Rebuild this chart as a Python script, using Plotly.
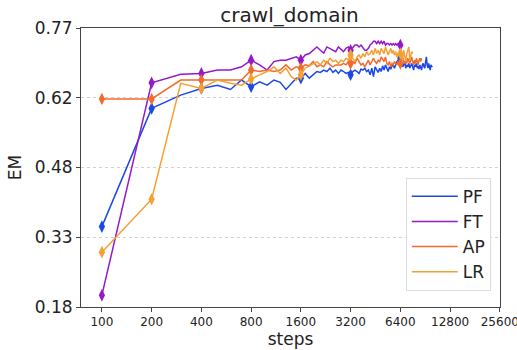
import math
import plotly.graph_objects as go

# Evaluation every 100 steps; EM score per method
STEP_INTERVAL = 100
MARK_STEPS = [100, 200, 400, 800, 1600, 3200, 6400]

pf_em = [
    0.350, 0.600, 0.628, 0.642, 0.649, 0.640, 0.660, 0.646, 0.656, 0.649,
    0.660, 0.655, 0.640, 0.653, 0.664, 0.664, 0.674, 0.664, 0.671, 0.678,
    0.676, 0.681, 0.678, 0.685, 0.676, 0.681, 0.674, 0.681, 0.678, 0.674,
    0.676, 0.671, 0.678, 0.681, 0.678, 0.674, 0.683, 0.681, 0.685, 0.678,
    0.681, 0.671, 0.685, 0.667, 0.688, 0.681, 0.676, 0.685, 0.678, 0.690,
    0.681, 0.692, 0.685, 0.678, 0.688, 0.683, 0.690, 0.692, 0.685, 0.695,
    0.699, 0.702, 0.699, 0.706, 0.695, 0.688, 0.692, 0.699, 0.685, 0.692,
    0.688, 0.695, 0.685, 0.692, 0.695, 0.688, 0.681, 0.692, 0.688, 0.695,
    0.685, 0.690, 0.683, 0.692, 0.688, 0.681, 0.692, 0.695, 0.688, 0.685,
    0.699, 0.709, 0.692, 0.685, 0.695, 0.688, 0.681, 0.692, 0.688, 0.690,
]

ft_em = [
    0.205, 0.654, 0.672, 0.674, 0.681, 0.681, 0.688, 0.702, 0.692, 0.681,
    0.699, 0.702, 0.702, 0.706, 0.709, 0.702, 0.713, 0.716, 0.723, 0.730,
    0.723, 0.717, 0.730, 0.727, 0.723, 0.720, 0.730, 0.725, 0.720, 0.727,
    0.730, 0.723, 0.730, 0.734, 0.734, 0.730, 0.734, 0.727, 0.723, 0.723,
    0.727, 0.734, 0.737, 0.742, 0.742, 0.737, 0.742, 0.737, 0.742, 0.737,
    0.742, 0.734, 0.737, 0.737, 0.734, 0.737, 0.734, 0.737, 0.734, 0.737,
    0.734, 0.737, 0.734, 0.734, 0.734,
]

ap_em = [
    0.620, 0.620, 0.660, 0.660, 0.660, 0.660, 0.660, 0.681, 0.678, 0.681,
    0.678, 0.681, 0.692, 0.681, 0.688, 0.685, 0.692, 0.690, 0.699, 0.688,
    0.692, 0.688, 0.699, 0.692, 0.688, 0.692, 0.692, 0.692, 0.695, 0.692,
    0.699, 0.695, 0.699, 0.695, 0.706, 0.699, 0.692, 0.695, 0.688, 0.695,
    0.702, 0.692, 0.699, 0.706, 0.699, 0.695, 0.702, 0.699, 0.709, 0.702,
    0.699, 0.709, 0.695, 0.692, 0.699, 0.688, 0.695, 0.692, 0.699, 0.695,
    0.692, 0.699, 0.692, 0.695, 0.702, 0.706, 0.699, 0.695, 0.702, 0.695,
    0.706, 0.699, 0.695, 0.702, 0.709, 0.699, 0.692, 0.702, 0.695, 0.706,
    0.699, 0.692, 0.702, 0.706, 0.699, 0.706,
]

lr_em = [
    0.296, 0.408, 0.653, 0.642, 0.660, 0.653, 0.649, 0.662, 0.671, 0.678,
    0.688, 0.674, 0.685, 0.667, 0.660, 0.671, 0.685, 0.690, 0.695, 0.699,
    0.692, 0.702, 0.695, 0.706, 0.699, 0.702, 0.695, 0.702, 0.699, 0.706,
    0.702, 0.713, 0.706, 0.699, 0.709, 0.713, 0.706, 0.716, 0.709, 0.720,
    0.713, 0.716, 0.723, 0.713, 0.727, 0.716, 0.723, 0.713, 0.727, 0.720,
    0.716, 0.730, 0.723, 0.713, 0.720, 0.727, 0.716, 0.723, 0.713, 0.720,
    0.709, 0.716, 0.713, 0.716, 0.709, 0.702, 0.723, 0.709, 0.699, 0.716,
    0.727, 0.730, 0.702, 0.713, 0.720, 0.716,
]

series_names = ["PF", "FT", "AP", "LR"]
series_values = [pf_em, ft_em, ap_em, lr_em]
series_colors = ["#1b48e6", "#9519c9", "#f36a2c", "#f4a033"]

x_tick_vals = [100, 200, 400, 800, 1600, 3200, 6400, 12800, 25600]
x_tick_text = ["100", "200", "400", "800", "1600", "3200", "6400", "12800", "25600"]
y_tick_vals = [0.18, 0.3275, 0.475, 0.6225, 0.77]
y_tick_text = ["0.18", "0.33", "0.48", "0.62", "0.77"]

FONT = "DejaVu Sans"

fig = go.Figure()
for name, vals, color in zip(series_names, series_values, series_colors):
    steps = [STEP_INTERVAL * (i + 1) for i in range(len(vals))]
    fig.add_trace(go.Scatter(
        x=steps, y=vals, mode="lines", name=name,
        line=dict(color=color, width=1.5),
    ))
    mx = [s for s in steps if s in MARK_STEPS]
    my = [v for s, v in zip(steps, vals) if s in MARK_STEPS]
    fig.add_trace(go.Scatter(
        x=mx, y=my, mode="markers", showlegend=False, hoverinfo="skip",
        marker=dict(symbol="diamond-tall", size=9, color=color,
                    line=dict(width=0)),
    ))

x_lo = 100 / 2 ** 0.42
fig.update_layout(
    width=517, height=350,
    margin=dict(l=81, r=17, t=28, b=43, autoexpand=False),
    paper_bgcolor="white", plot_bgcolor="white",
    font=dict(family=FONT, color="#222222"),
    title=dict(text="crawl_domain", x=0.56, xanchor="center",
               y=0.958, yanchor="middle", font=dict(size=20, family=FONT)),
    showlegend=True,
    legend=dict(x=0.978, y=0.058, xanchor="right", yanchor="bottom",
                bgcolor="white", bordercolor="#dcdcdc", borderwidth=1,
                font=dict(size=17, family=FONT), tracegroupgap=0,
                itemwidth=46),
)
fig.update_xaxes(
    type="log", range=[math.log10(x_lo), math.log10(25600) + 0.001],
    tickvals=x_tick_vals, ticktext=x_tick_text, ticklabeloverflow="allow",
    tickfont=dict(size=12, family=FONT),
    ticks="outside", ticklen=4, tickcolor="#444444",
    showgrid=False, zeroline=False, automargin=False,
    showline=True, linecolor="#444444", linewidth=1, mirror=True,
    title=dict(text="steps", font=dict(size=17, family=FONT), standoff=3),
)
fig.update_yaxes(
    range=[0.18, 0.77],
    tickvals=y_tick_vals, ticktext=y_tick_text,
    tickfont=dict(size=17, family=FONT),
    ticks="outside", ticklen=4, tickcolor="#444444",
    showgrid=True, gridcolor="#d2d2d2", griddash="dot", gridwidth=1,
    zeroline=False, automargin=False,
    showline=True, linecolor="#444444", linewidth=1, mirror=True,
    title=dict(text="EM", font=dict(size=17, family=FONT), standoff=8),
)

fig.write_html("out.html")
